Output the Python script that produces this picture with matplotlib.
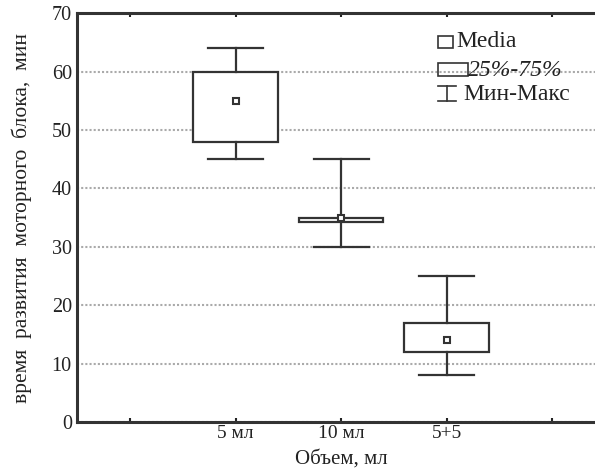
import matplotlib
matplotlib.use("Agg")
import matplotlib.pyplot as plt
from matplotlib.patches import Rectangle
from matplotlib.lines import Line2D

categories = ["5 мл", "10 мл", "5+5"]
medians = [55, 35, 14]
q1 = [48, 34.2, 12]
q3 = [60, 35.0, 17]
mins = [45, 30, 8]
maxs = [64, 45, 25]
yticks = [0, 10, 20, 30, 40, 50, 60, 70]

plt.rcParams['font.family'] = ['Liberation Serif', 'DejaVu Serif']

fig = plt.figure(figsize=(5.95, 4.7), dpi=100)
ax = fig.add_axes([0.130, 0.102, 0.8866, 0.870])

edge = '#333333'
txt = '#222222'
stats = []
for c, m, a, b, lo, hi in zip(categories, medians, q1, q3, mins, maxs):
    stats.append(dict(label=c, med=m, mean=m, q1=a, q3=b, whislo=lo, whishi=hi, fliers=[]))

positions = [1, 2, 3]
ax.bxp(stats, positions=positions, widths=0.8, capwidths=0.52, showmeans=True,
       patch_artist=True, manage_ticks=False,
       boxprops=dict(facecolor='white', edgecolor=edge, linewidth=1.6),
       whiskerprops=dict(color=edge, linewidth=1.6),
       capprops=dict(color=edge, linewidth=1.6),
       medianprops=dict(linestyle='none'),
       meanprops=dict(marker='s', markersize=5, markerfacecolor='white',
                      markeredgecolor=edge, markeredgewidth=1.5))

ax.set_xlim(-0.5, 4.5)
ax.set_ylim(0, 70)
ax.set_yticks(yticks)
ax.set_xticks([0, 1, 2, 3, 4])
ax.set_xticklabels([''] + categories + [''])
ax.tick_params(axis='y', length=0, labelsize=14.5, pad=4, colors=txt)
ax.tick_params(axis='x', direction='in', length=3, width=1.5, top=True,
               labelsize=14, pad=2, colors=txt)
ax.grid(axis='y', linestyle=(0, (1, 1)), color='#aaaaaa', linewidth=1.5)
ax.set_axisbelow(True)
for s in ax.spines.values():
    s.set_linewidth(2.2)
    s.set_color('#333333')

ax.set_ylabel("время  развития  моторного  блока,  мин", fontsize=15.5, labelpad=14, color=txt)
ax.set_xlabel("Объем, мл", fontsize=15, labelpad=5.5, color=txt)

# legend drawn manually in axes coordinates
tr = ax.transAxes
ax.add_patch(Rectangle((0.684, 0.914), 0.028, 0.031, transform=tr, fill=False,
                       edgecolor=edge, linewidth=1.2, clip_on=False))
ax.text(0.718, 0.930, "Media", transform=tr, fontsize=17, va='center', ha='left', color=txt)
ax.add_patch(Rectangle((0.684, 0.846), 0.057, 0.031, transform=tr, fill=False,
                       edgecolor=edge, linewidth=1.2, clip_on=False))
ax.text(0.741, 0.860, "25%-75%", transform=tr, fontsize=17, va='center', ha='left',
        style='italic', color=txt)
ax.add_line(Line2D([0.701, 0.701], [0.784, 0.823], transform=tr, color=edge, linewidth=1.2))
ax.add_line(Line2D([0.684, 0.718], [0.823, 0.823], transform=tr, color=edge, linewidth=1.2))
ax.add_line(Line2D([0.684, 0.718], [0.784, 0.784], transform=tr, color=edge, linewidth=1.2))
ax.text(0.732, 0.801, "Мин-Макс", transform=tr, fontsize=17, va='center', ha='left', color=txt)

fig.savefig("out.png", dpi=100)
